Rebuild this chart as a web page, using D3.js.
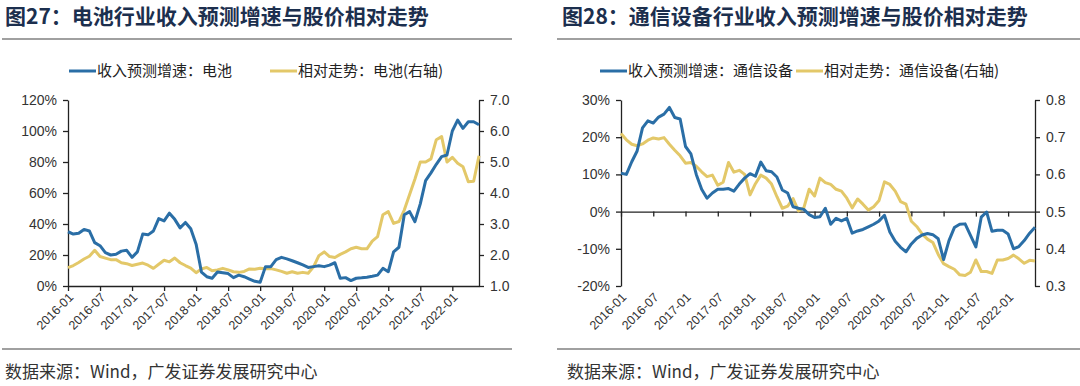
<!DOCTYPE html>
<html>
<head>
<meta charset="utf-8">
<script src="https://cdn.jsdelivr.net/npm/d3@7"></script>
<style>
body { margin: 0; background: #fff; }
svg { display: block; font-family: "Liberation Sans", Arial, sans-serif; }
</style>
</head>
<body>
<svg id="chart" width="1080" height="386"></svg>
<script>
// x tick labels, one every 6 months (month index 0 = 2016-01)
var tickLabels = ["2016-01", "2016-07", "2017-01", "2017-07", "2018-01", "2018-07", "2019-01",
    "2019-07", "2020-01", "2020-07", "2021-01", "2021-07", "2022-01"];
var tickMonths = [0, 6, 12, 18, 24, 30, 36, 42, 48, 54, 60, 66, 72];

// 图27 battery: revenue growth forecast (%), left axis
var batteryGrowth = [35, 33.5, 34, 36.5, 35.5, 28, 26, 21.5, 20, 20.5,
    22.5, 23, 18.5, 22, 33.5, 33, 35.5, 43.5, 42, 47,
    43, 37.5, 41, 37, 27, 9, 6, 5, 9, 8.6,
    8, 5.4, 7, 6, 4.5, 3, 2.4, 12.5, 12.5, 17,
    18.5, 17.5, 16.3, 15, 13.6, 12, 12.5, 13, 12.5, 13.5,
    15, 5, 5.4, 3.5, 5, 5.3, 5.7, 6.3, 7, 11.4,
    9.2, 22, 25, 46, 48, 41.5, 53, 68, 73, 78.5,
    83.5, 84.5, 100, 107, 101.7, 106, 106, 104];
// battery: relative price trend, right axis
var batteryRelative = [1.59, 1.66, 1.76, 1.87, 1.96, 2.15, 1.95, 1.9, 1.85, 1.85,
    1.75, 1.72, 1.66, 1.7, 1.74, 1.67, 1.57, 1.7, 1.83, 1.78,
    1.9, 1.75, 1.66, 1.58, 1.43, 1.55, 1.6, 1.49, 1.52, 1.57,
    1.52, 1.46, 1.44, 1.47, 1.55, 1.54, 1.57, 1.56, 1.56, 1.52,
    1.47, 1.41, 1.46, 1.41, 1.44, 1.41, 1.62, 1.98, 2.1, 1.95,
    1.92, 2.02, 2.1, 2.2, 2.25, 2.2, 2.2, 2.45, 2.59, 3.3,
    3.4, 3.02, 3.08, 3.45, 3.95, 4.45, 5.0, 5.0, 5.1, 5.72,
    5.82, 5.0, 5.15, 4.96, 4.85, 4.36, 4.38, 5.2];

// 图28 telecom equipment: revenue growth forecast (%), left axis
var telecomGrowth = [10.3, 10, 13.4, 16.3, 22.5, 24.4, 23.8, 25.4, 26.2, 28,
    25.3, 24.9, 17.5, 15.5, 10, 6, 3.6, 5, 6, 6,
    6.2, 5.5, 7.4, 9, 10.2, 9.5, 13.3, 11, 10.7, 9.3,
    5.8, 5, 1.3, 0.9, 0.6, -0.8, -1.6, -1.4, 0.9, -3.4,
    -1.8, -2.5, -1.8, -5.8, -5.2, -4.8, -4.1, -3.4, -2.5, -1,
    -5.5, -8, -9.6, -10.8, -8.7, -7.2, -6.3, -5.9, -6.2, -7.3,
    -12.9, -7.8, -4.3, -3.4, -3.3, -6.4, -9.5, -1.5, -0.1, -5.3,
    -5, -5, -6, -10, -9.4, -7.8, -5.8, -4.2];
// telecom equipment: relative price trend, right axis
var telecomRelative = [0.71, 0.693, 0.681, 0.677, 0.682, 0.692, 0.698, 0.695, 0.699, 0.681,
    0.665, 0.65, 0.63, 0.632, 0.622, 0.607, 0.594, 0.598, 0.571, 0.579,
    0.632, 0.606, 0.611, 0.6, 0.545, 0.575, 0.598, 0.59, 0.574, 0.54,
    0.509, 0.515, 0.535, 0.502, 0.51, 0.56, 0.542, 0.59, 0.578, 0.573,
    0.56, 0.555, 0.536, 0.51, 0.534, 0.52, 0.504, 0.513, 0.53, 0.58,
    0.573, 0.555, 0.527, 0.52, 0.474, 0.46, 0.44, 0.426, 0.417, 0.385,
    0.36, 0.352, 0.345, 0.33, 0.328, 0.337, 0.37, 0.339, 0.339, 0.334,
    0.37, 0.37, 0.374, 0.383, 0.373, 0.361, 0.369, 0.367];

var batteryLeftTicks = [0, 20, 40, 60, 80, 100, 120];
var batteryRightTicks = [1, 2, 3, 4, 5, 6, 7];
var telecomLeftTicks = [-20, -10, 0, 10, 20, 30];
var telecomRightTicks = [0.3, 0.4, 0.5, 0.6, 0.7, 0.8];

var blue = "#2a6ea6", gold = "#e3c869";
var cjk = '"Noto Sans CJK SC", "Liberation Sans", sans-serif';
var svg = d3.select("#chart");

function drawPanel(p) {
    var g = svg.append("g");
    var top = 100, bottom = 286;

    // title and rules
    g.append("text")
        .attr("x", p.titleX).attr("y", 24)
        .style("font-family", cjk).style("font-weight", "bold")
        .style("font-size", "21px").style("fill", "#1c2f4e")
        .text(p.title);
    g.append("line")
        .attr("x1", p.ruleX1).attr("x2", p.ruleX2).attr("y1", 39).attr("y2", 39)
        .style("stroke", "#808080").style("stroke-width", 1.5);
    g.append("line")
        .attr("x1", p.ruleX1).attr("x2", p.ruleX2).attr("y1", 349).attr("y2", 349)
        .style("stroke", "#808080").style("stroke-width", 1.5);
    g.append("text")
        .attr("x", p.sourceX).attr("y", 378)
        .style("font-family", cjk).style("font-size", "17px").style("fill", "#333")
        .text("数据来源：Wind，广发证券发展研究中心");

    // legend
    p.legend.forEach(function(l) {
        g.append("line")
            .attr("x1", l.x).attr("x2", l.x + 27).attr("y1", 71).attr("y2", 71)
            .style("stroke", l.color).style("stroke-width", 3);
        g.append("text")
            .attr("x", l.x + 28).attr("y", 76)
            .style("font-family", cjk).style("font-size", "15px").style("fill", "#222")
            .text(l.label);
    });

    var x = d3.scaleLinear().domain([0, 77]).range([p.left, p.right]);
    var yL = d3.scaleLinear().domain(d3.extent(p.leftTicks)).range([bottom, top]);
    var yR = d3.scaleLinear().domain(d3.extent(p.rightTicks)).range([bottom, top]);

    // axes
    var xAxisY = yL(p.xAxisAt);
    g.append("g")
        .attr("transform", "translate(0," + xAxisY + ")")
        .call(d3.axisBottom(x).tickValues(tickMonths).tickFormat("").tickSize(5).tickSizeOuter(0));
    g.append("g")
        .attr("transform", "translate(" + p.left + ",0)")
        .call(d3.axisLeft(yL).tickValues(p.leftTicks).tickFormat(function(d) { return d + "%"; })
            .tickSize(5).tickSizeOuter(0).tickPadding(6));
    g.append("g")
        .attr("transform", "translate(" + p.right + ",0)")
        .call(d3.axisRight(yR).tickValues(p.rightTicks).tickFormat(d3.format(".1f"))
            .tickSize(5).tickSizeOuter(0).tickPadding(6));
    g.selectAll(".domain, .tick line").style("stroke", "#222").style("stroke-width", 1.3);
    g.selectAll(".tick text").style("font-size", "14px").style("fill", "#333")
        .style("font-family", '"Liberation Sans", Arial, sans-serif');

    // rotated month labels under the plot
    g.selectAll(".xlab")
        .data(tickMonths)
        .enter().append("text")
        .attr("class", "xlab")
        .attr("transform", function(d) { return "translate(" + (x(d) + 3) + "," + (bottom + 9) + ") rotate(-45)"; })
        .attr("text-anchor", "end")
        .attr("dy", "0.35em")
        .style("font-size", "12.5px").style("fill", "#333")
        .text(function(d, i) { return tickLabels[i]; });

    // lines
    var lineL = d3.line().x(function(d, i) { return x(i); }).y(function(d) { return yL(d); });
    var lineR = d3.line().x(function(d, i) { return x(i); }).y(function(d) { return yR(d); });
    g.append("path").datum(p.rightSeries)
        .attr("d", lineR).style("fill", "none").style("stroke", gold)
        .style("stroke-width", 3).style("stroke-linejoin", "round");
    g.append("path").datum(p.leftSeries)
        .attr("d", lineL).style("fill", "none").style("stroke", blue)
        .style("stroke-width", 3).style("stroke-linejoin", "round");
}

drawPanel({
    title: "图27：电池行业收入预测增速与股价相对走势",
    titleX: 5, ruleX1: 2, ruleX2: 512, sourceX: 5,
    left: 68, right: 479, xAxisAt: 0,
    leftTicks: batteryLeftTicks, rightTicks: batteryRightTicks,
    leftSeries: batteryGrowth, rightSeries: batteryRelative,
    legend: [{x: 69, color: blue, label: "收入预测增速：电池"},
             {x: 270, color: gold, label: "相对走势：电池(右轴)"}]
});

drawPanel({
    title: "图28：通信设备行业收入预测增速与股价相对走势",
    titleX: 562, ruleX1: 557, ruleX2: 1080, sourceX: 567,
    left: 621, right: 1035, xAxisAt: 0,
    leftTicks: telecomLeftTicks, rightTicks: telecomRightTicks,
    leftSeries: telecomGrowth, rightSeries: telecomRelative,
    legend: [{x: 600, color: blue, label: "收入预测增速：通信设备"},
             {x: 796, color: gold, label: "相对走势：通信设备(右轴)"}]
});
</script>
</body>
</html>
